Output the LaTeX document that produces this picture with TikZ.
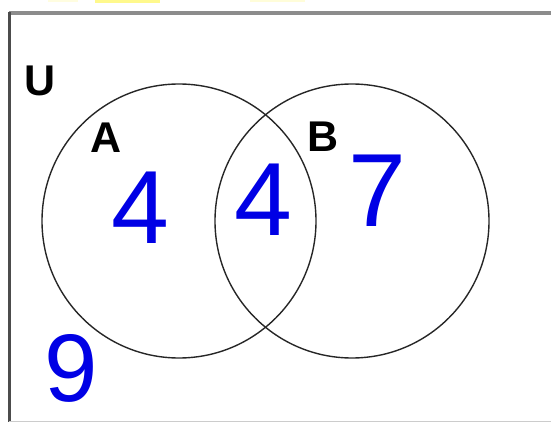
\documentclass[tikz,border=0pt]{standalone}
\usepackage{fontspec}
\setmainfont{Liberation Sans}
\usetikzlibrary{positioning}

\begin{document}
\begin{tikzpicture}[x=0.5pt,y=-0.5pt,
  setc/.style={draw=black!85,circle,line width=0.7pt,minimum size=137pt,inner sep=0pt},
  lab/.style={font=\fontsize{21.5}{24}\selectfont\bfseries,inner sep=0pt},
  num/.style={text=blue!90!black,font=\fontsize{52}{56}\selectfont,inner sep=0pt}]
\useasboundingbox (0,0) rectangle (551,422);
% faint highlight marks at the top edge
\fill[yellow!12] (48,0) rectangle (78,2.5);
\fill[yellow!45] (95,0) rectangle (160,3.5);
\fill[yellow!15] (250,0) rectangle (305,2.5);
% universe frame
\draw[black!45,line width=2pt] (9,13.5) -- (551,13.5);
\draw[black!70,line width=1.5pt] (9.5,12.5) -- (9.5,422);
\draw[black!20,line width=0.5pt] (9,421) -- (551,421);
% sets
\node[setc] (setA) at (179,221) {};
\node[setc] (setB) at (352,221) {};
\node[lab] (labU) at (40,81) {U};
\node[lab] (labA) at (106,138) {A};
\node[lab] (labB) at (323,137) {B};
% counts
\node[num] (onlyA) at (140,208) {4};
\node[num] (both) at (263,200) {4};
\node[num] (onlyB) at (377,191) {7};
\node[num,font=\fontsize{48}{52}\selectfont] (none) at (71,368) {9};
\end{tikzpicture}
\end{document}
